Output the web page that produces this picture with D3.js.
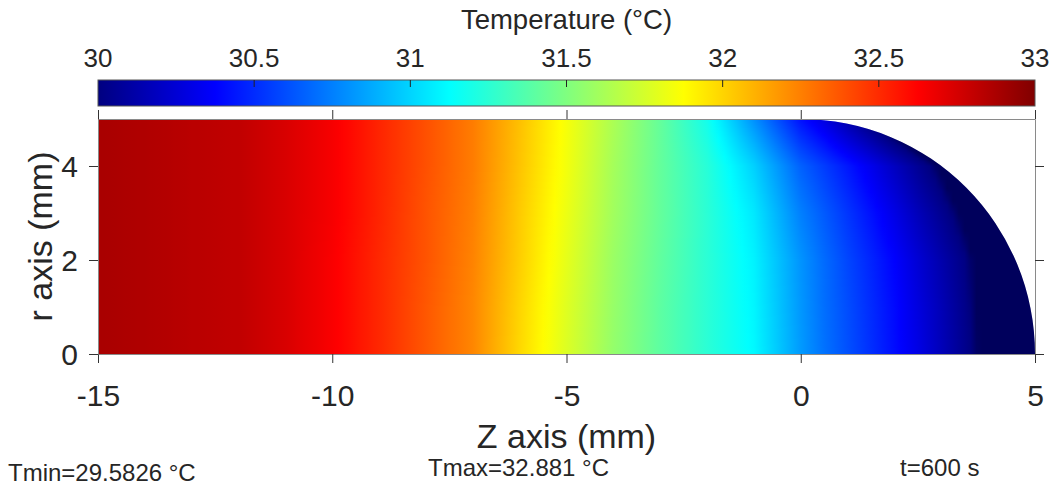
<!DOCTYPE html>
<html><head><meta charset="utf-8">
<script src="https://cdn.jsdelivr.net/npm/d3@7"></script>
<style>
body{margin:0;background:#fff}
text{font-family:"Liberation Sans",Arial,Helvetica,sans-serif;fill:#262626}
</style>
</head><body>
<svg id="chart" width="1057" height="490"></svg>
<script>
// ---- data ----
const zGrid = [-15,-14,-13,-12,-11,-10,-9,-8,-7,-6,-5,-4,-3,-2,-1,0,0.5,1,1.5,2,2.5,3,3.5,4,4.5,5];
const rGrid = [0,1,2,3,4,5];
const T_r0 = [32.88,32.86,32.83,32.81,32.74,32.64,32.51,32.37,32.23,31.99,31.77,31.56,31.40,31.25,31.11,30.83,30.71,30.61,30.51,30.41,30.30,30.17,30.04,29.90,29.74,29.58];
const T_r1 = [32.88,32.86,32.83,32.81,32.74,32.64,32.51,32.37,32.23,32.00,31.78,31.57,31.40,31.25,31.10,30.82,30.70,30.60,30.50,30.40,30.28,30.16,30.03,29.89,29.73,29.58];
const T_r2 = [32.88,32.86,32.83,32.81,32.74,32.64,32.51,32.38,32.24,32.02,31.80,31.58,31.41,31.25,31.09,30.81,30.69,30.58,30.48,30.375,30.25,30.13,30.01,29.87,29.72,29.60];
const T_r3 = [32.88,32.86,32.83,32.81,32.74,32.65,32.52,32.38,32.25,32.03,31.82,31.60,31.42,31.25,31.06,30.75,30.64,30.53,30.42,30.30,30.17,30.05,29.93,29.80,29.68,29.60];
const T_r4 = [32.88,32.86,32.83,32.81,32.74,32.65,32.52,32.39,32.26,32.05,31.84,31.61,31.42,31.24,30.99,30.66,30.55,30.44,30.32,30.19,30.06,29.94,29.80,29.70,29.62,29.58];
const T_r5 = [32.88,32.86,32.83,32.81,32.74,32.65,32.52,32.39,32.26,32.06,31.85,31.63,31.42,31.18,30.80,30.42,30.28,30.12,29.97,29.82,29.70,29.62,29.60,29.59,29.58,29.58];
const colorbarTicks = [30,30.5,31,31.5,32,32.5,33];
const xTicks = [-15,-10,-5,0,5];
const yTicks = [0,2,4];
const jetStops = [30,30.375,31.125,31.875,32.625,33];
const jetColors = ["#000080","#0000ff","#00ffff","#ffff00","#ff0000","#800000"];
const belowColor = "#00005c";
const Tmin = 29.5826, Tmax = 32.881, tSec = 600;
const tempRows = [T_r0,T_r1,T_r2,T_r3,T_r4,T_r5];

// ---- scales ----
const svg = d3.select("#chart");
const x = d3.scaleLinear().domain([-15,5]).range([98,1035]);
const y = d3.scaleLinear().domain([0,5]).range([354,119]);
const jet = d3.scaleLinear().domain(jetStops).range(jetColors).clamp(true);
const below = d3.scaleLinear().domain([29.96, 30]).range([belowColor, jetColors[0]]).clamp(true);
const col = T => T < 30 ? below(T) : jet(T);

function tempAt(z, r){
  let i = Math.max(0, Math.min(zGrid.length-2, d3.bisectRight(zGrid, z)-1));
  let j = Math.max(0, Math.min(rGrid.length-2, d3.bisectRight(rGrid, r)-1));
  const tz = (z - zGrid[i])/(zGrid[i+1]-zGrid[i]);
  const tr = (r - rGrid[j])/(rGrid[j+1]-rGrid[j]);
  const a = tempRows[j][i]*(1-tz) + tempRows[j][i+1]*tz;
  const b = tempRows[j+1][i]*(1-tz) + tempRows[j+1][i+1]*tz;
  return a*(1-tr) + b*tr;
}

const defs = svg.append("defs");
// domain clip: cylinder plus rounded cap
const rx = x(5)-x(0), ry = y(0)-y(5);
defs.append("clipPath").attr("id","dom").append("path")
  .attr("d", `M${x(-15)},${y(0)} L${x(-15)},${y(5)} L${x(0)},${y(5)} A${rx},${ry} 0 0 1 ${x(5)},${y(0)} Z`);

// ---- heat map strips ----
const zStops = d3.range(-15, 5.0001, 0.125);
const heat = svg.append("g").attr("clip-path","url(#dom)");
const rowsPx = d3.range(Math.round(y(5)), Math.round(y(0)));
rowsPx.forEach(py => {
  const r = y.invert(py + 0.5);
  const g = defs.append("linearGradient").attr("id","h"+py)
    .attr("gradientUnits","userSpaceOnUse")
    .attr("x1", x(-15)).attr("x2", x(5)).attr("y1",0).attr("y2",0);
  zStops.forEach(z => {
    g.append("stop").attr("offset", (x(z)-x(-15))/(x(5)-x(-15)))
      .attr("stop-color", col(tempAt(z, r)));
  });
  heat.append("rect").attr("x", x(-15)).attr("y", py)
    .attr("width", x(5)-x(-15)).attr("height", 1.2)
    .attr("fill", "url(#h"+py+")");
});

// ---- axes ----
const boxColor = "#8a8a8a", tickColor = "#333";
const fmt = d => String(d);
function styleAxis(g){
  g.select(".domain").attr("stroke", boxColor);
  g.selectAll(".tick line").attr("stroke", tickColor);
  g.selectAll(".tick text").attr("fill","#262626")
    .style("font-family","'Liberation Sans',Arial,sans-serif").style("font-size","30px");
}
const gx = svg.append("g").attr("transform",`translate(0,${y(0)})`)
  .call(d3.axisBottom(x).tickValues(xTicks).tickSize(9).tickSizeOuter(0).tickFormat(fmt))
  .call(styleAxis);
gx.selectAll(".tick text").attr("y", 31).attr("dy","0.71em");
svg.append("g").attr("transform",`translate(0,${y(5)})`)
  .call(d3.axisTop(x).tickValues(xTicks).tickSize(9).tickSizeOuter(0).tickFormat(""))
  .call(styleAxis);
const gy = svg.append("g").attr("transform",`translate(${x(-15)},0)`)
  .call(d3.axisLeft(y).tickValues(yTicks).tickSize(9).tickSizeOuter(0).tickPadding(11).tickFormat(fmt))
  .call(styleAxis);
gy.selectAll(".tick text").attr("dy","0.36em");
svg.append("g").attr("transform",`translate(${x(5)},0)`)
  .call(d3.axisRight(y).tickValues(yTicks).tickSize(9).tickSizeOuter(0).tickFormat(""))
  .call(styleAxis);

// ---- colorbar ----
const cb = {y:80, h:26};
const cbScale = d3.scaleLinear().domain([30,33]).range([x(-15), x(5)]);
const cg = defs.append("linearGradient").attr("id","cbg")
  .attr("gradientUnits","userSpaceOnUse").attr("x1", cbScale(30)).attr("x2", cbScale(33)).attr("y1",0).attr("y2",0);
jetStops.forEach((s,i) => cg.append("stop").attr("offset",(s-30)/3).attr("stop-color",jetColors[i]));
svg.append("rect").attr("x", cbScale(30)).attr("y", cb.y).attr("width", cbScale(33)-cbScale(30)).attr("height", cb.h)
  .attr("fill","url(#cbg)").attr("stroke","#555").attr("stroke-width",1);
svg.append("g").selectAll("line").data(colorbarTicks.slice(1,-1)).join("line")
  .attr("x1", d=>cbScale(d)).attr("x2", d=>cbScale(d)).attr("y1", cb.y).attr("y2", cb.y+7)
  .attr("stroke","#222").attr("stroke-width",1);
svg.append("g").selectAll("text").data(colorbarTicks).join("text")
  .attr("x", d=>cbScale(d)).attr("y", 67).attr("text-anchor","middle")
  .style("font-size","26px").text(d=>d);
svg.append("text").attr("x", (x(-15)+x(5))/2).attr("y", 29).attr("text-anchor","middle")
  .style("font-size","27.5px").text("Temperature (°C)");

// ---- axis titles ----
svg.append("text").attr("x", (x(-15)+x(5))/2).attr("y", 448).attr("text-anchor","middle")
  .style("font-size","34px").text("Z axis (mm)");
svg.append("text").attr("transform",`translate(52,${(y(0)+y(5))/2}) rotate(-90)`).attr("text-anchor","middle")
  .style("font-size","34px").text("r axis (mm)");

// ---- footer ----
svg.append("text").attr("x", 8).attr("y", 481).style("font-size","24px").text(`Tmin=${Tmin} °C`);
svg.append("text").attr("x", 428).attr("y", 476).style("font-size","24px").text(`Tmax=${Tmax} °C`);
svg.append("text").attr("x", 900).attr("y", 476).style("font-size","24px").text(`t=${tSec} s`);
</script>
</body></html>
